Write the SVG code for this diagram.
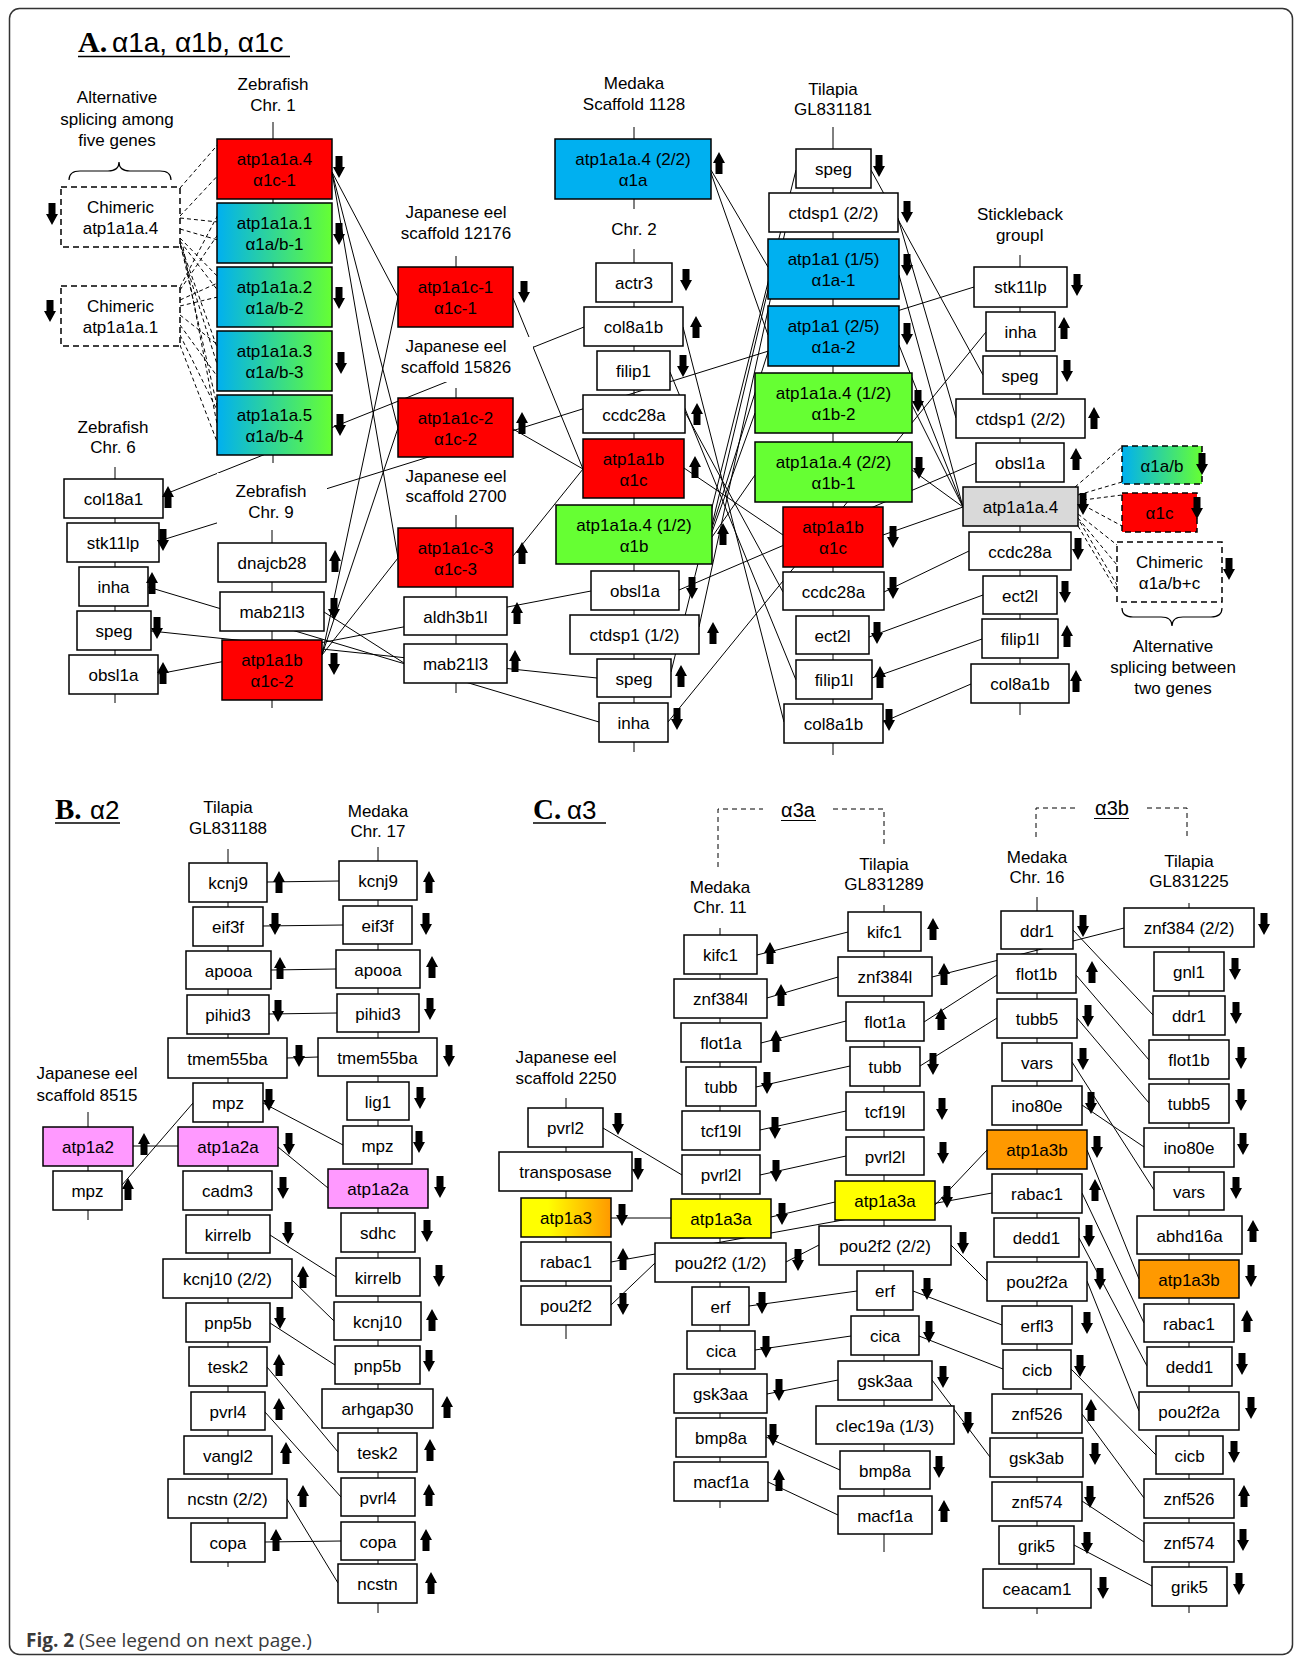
<svg xmlns="http://www.w3.org/2000/svg" width="1295" height="1658" viewBox="0 0 1295 1658">
<style>
.b{fill:#fff;stroke:#000;stroke-width:1.5}
.r{fill:#f00;stroke:#000;stroke-width:1.5}
.bl{fill:#00b0f0;stroke:#000;stroke-width:1.5}
.g{fill:#66ff33;stroke:#000;stroke-width:1.5}
.gr{fill:url(#gab);stroke:#000;stroke-width:1.5}
.p{fill:#ff99ff;stroke:#000;stroke-width:1.5}
.y{fill:#ffff00;stroke:#000;stroke-width:1.5}
.o{fill:#ff9900;stroke:#000;stroke-width:1.5}
.yo{fill:url(#gyo);stroke:#000;stroke-width:1.5}
.gy{fill:#d9d9d9;stroke:#000;stroke-width:1.5}
.dsh{stroke-dasharray:6 4}
text{font-family:"Liberation Sans",Arial,Helvetica,sans-serif;font-size:17px;fill:#000}
.t{text-anchor:middle}
.ax{stroke:#000;stroke-width:1;fill:none}
#connectors line{stroke:#000;stroke-width:1}
#connectors .dl{stroke-dasharray:4 3}
.bg{fill:#fff}
.br{fill:none;stroke:#000;stroke-width:1.2}
.ttl{font-family:"Liberation Serif","Times New Roman",serif;font-weight:bold;font-size:30px}
.ttl2{font-family:"Liberation Serif","Times New Roman",serif;font-weight:bold;font-size:29px}
.tts{font-size:28px}
.tts2{font-size:26px}
.sub{font-size:20px}
.fig{font-family:"Open Sans","Noto Sans",sans-serif;font-size:19px;fill:#3a3a3a}
</style>
<defs>
<linearGradient id="gab" x1="0" y1="0" x2="1" y2="0"><stop offset="0" stop-color="#00b0f0"/><stop offset="1" stop-color="#66ff33"/></linearGradient>
<linearGradient id="gyo" x1="0" y1="0" x2="1" y2="0"><stop offset="0.3" stop-color="#ffff00"/><stop offset="1" stop-color="#ff9900"/></linearGradient>
<path id="dn" d="M-3.5,0h7v11h2.5l-6,11l-6,-11h2.5z" fill="#000"/>
<path id="up" d="M-3.5,22h7v-11h2.5l-6,-11l-6,11h2.5z" fill="#000"/>
</defs>
<rect x="9.5" y="8.5" width="1283" height="1646" rx="10" fill="#fff" stroke="#333" stroke-width="1.5"/>

<g id="titles">
<text class="ttl" x="78" y="52">A.</text><text class="tts" x="112" y="52">α1a, α1b, α1c</text>
<line x1="78" y1="56.5" x2="290" y2="56.5" stroke="#000" stroke-width="1.5"/>
<text class="ttl2" x="55" y="819">B.</text><text class="tts2" x="90" y="819">α2</text>
<line x1="55" y1="823" x2="120" y2="823" stroke="#000" stroke-width="1.5"/>
<text class="ttl2" x="533" y="819">C.</text><text class="tts2" x="567" y="819">α3</text>
<line x1="533" y1="823" x2="606" y2="823" stroke="#000" stroke-width="1.5"/>
<text class="fig" x="26" y="1647"><tspan font-weight="bold">Fig. 2</tspan> (See legend on next page.)</text>
</g>

<g id="axes">
<line class="ax" x1="273" y1="122" x2="273" y2="463"/>
<line class="ax" x1="115" y1="467" x2="115" y2="703"/>
<line class="ax" x1="272" y1="530" x2="272" y2="708"/>
<line class="ax" x1="456" y1="256" x2="456" y2="267"/>
<line class="ax" x1="456" y1="388" x2="456" y2="398"/>
<line class="ax" x1="456" y1="515" x2="456" y2="693"/>
<line class="ax" x1="634" y1="127" x2="634" y2="209"/>
<line class="ax" x1="634" y1="249" x2="634" y2="752"/>
<line class="ax" x1="833" y1="127" x2="833" y2="755"/>
<line class="ax" x1="1020" y1="255" x2="1020" y2="715"/>
<line class="ax" x1="228" y1="849" x2="228" y2="1567"/>
<line class="ax" x1="378" y1="847" x2="378" y2="1613"/>
<line class="ax" x1="88" y1="1112" x2="88" y2="1220"/>
<line class="ax" x1="566" y1="1098" x2="566" y2="1339"/>
<line class="ax" x1="720" y1="928" x2="720" y2="1508"/>
<line class="ax" x1="884" y1="905" x2="884" y2="1552"/>
<line class="ax" x1="1037" y1="897" x2="1037" y2="1614"/>
<line class="ax" x1="1189" y1="903" x2="1189" y2="1613"/>
</g>

<g id="connectors">
<line class="dl" x1="180" y1="188" x2="221" y2="141"/>
<line class="dl" x1="180" y1="216" x2="223" y2="170"/>
<line class="dl" x1="180" y1="218" x2="218" y2="222"/>
<line class="dl" x1="180" y1="229" x2="218" y2="240"/>
<line class="dl" x1="180" y1="238" x2="222" y2="281"/>
<line class="dl" x1="180" y1="241" x2="222" y2="296"/>
<line class="dl" x1="180" y1="243" x2="218" y2="350"/>
<line class="dl" x1="180" y1="245" x2="222" y2="380"/>
<line class="dl" x1="181" y1="246" x2="218" y2="410"/>
<line class="dl" x1="183" y1="247" x2="222" y2="450"/>
<line class="dl" x1="180" y1="287" x2="222" y2="207"/>
<line class="dl" x1="180" y1="290" x2="223" y2="227"/>
<line class="dl" x1="180" y1="300" x2="222" y2="281"/>
<line class="dl" x1="180" y1="306" x2="222" y2="296"/>
<line class="dl" x1="180" y1="315" x2="218" y2="345"/>
<line class="dl" x1="180" y1="325" x2="222" y2="383"/>
<line class="dl" x1="180" y1="335" x2="218" y2="412"/>
<line class="dl" x1="180" y1="345" x2="221" y2="452"/>
<line class="dl" x1="1075" y1="487" x2="1122" y2="447"/>
<line class="dl" x1="1078" y1="495" x2="1122" y2="482"/>
<line class="dl" x1="1083" y1="500" x2="1122" y2="495"/>
<line class="dl" x1="1083" y1="505" x2="1122" y2="526"/>
<line class="dl" x1="1078" y1="514" x2="1117" y2="545"/>
<line class="dl" x1="1078" y1="518" x2="1117" y2="565"/>
<line class="dl" x1="1080" y1="522" x2="1117" y2="585"/>
<line class="dl" x1="1078" y1="526" x2="1122" y2="600"/>
<line x1="163" y1="495" x2="584" y2="327"/>
<line x1="159" y1="541" x2="974" y2="287"/>
<line x1="148" y1="587" x2="599" y2="722"/>
<line x1="151" y1="631" x2="597" y2="678"/>
<line x1="158" y1="674" x2="591" y2="591"/>
<line x1="324" y1="612" x2="404" y2="663"/>
<line x1="332" y1="172" x2="398" y2="297"/>
<line x1="332" y1="172" x2="398" y2="428"/>
<line x1="332" y1="172" x2="398" y2="558"/>
<line x1="322" y1="655" x2="398" y2="297"/>
<line x1="322" y1="655" x2="398" y2="428"/>
<line x1="322" y1="655" x2="398" y2="558"/>
<line x1="513" y1="298" x2="583" y2="469"/>
<line x1="513" y1="429" x2="583" y2="469"/>
<line x1="513" y1="556" x2="583" y2="469"/>
<line x1="684" y1="468" x2="783" y2="535"/>
<line x1="711" y1="170" x2="768" y2="267"/>
<line x1="711" y1="173" x2="768" y2="335"/>
<line x1="712" y1="532" x2="755" y2="413"/>
<line x1="712" y1="537" x2="755" y2="475"/>
<line x1="712" y1="525" x2="768" y2="290"/>
<line x1="712" y1="528" x2="768" y2="352"/>
<line x1="699" y1="627" x2="785" y2="232"/>
<line x1="671" y1="672" x2="796" y2="170"/>
<line x1="683" y1="327" x2="784" y2="722"/>
<line x1="670" y1="372" x2="796" y2="680"/>
<line x1="685" y1="412" x2="783" y2="592"/>
<line x1="679" y1="590" x2="976" y2="463"/>
<line x1="668" y1="722" x2="986" y2="332"/>
<line x1="871" y1="170" x2="983" y2="375"/>
<line x1="898" y1="218" x2="956" y2="418"/>
<line x1="899" y1="275" x2="963" y2="507"/>
<line x1="899" y1="345" x2="963" y2="507"/>
<line x1="912" y1="405" x2="963" y2="507"/>
<line x1="912" y1="470" x2="963" y2="507"/>
<line x1="883" y1="535" x2="963" y2="507"/>
<line x1="969" y1="551" x2="884" y2="592"/>
<line x1="983" y1="595" x2="869" y2="637"/>
<line x1="982" y1="639" x2="872" y2="678"/>
<line x1="971" y1="684" x2="883" y2="722"/>
<line x1="267" y1="882" x2="339" y2="881"/>
<line x1="263" y1="926" x2="343" y2="925"/>
<line x1="271" y1="970" x2="336" y2="969"/>
<line x1="269" y1="1014" x2="337" y2="1013"/>
<line x1="287" y1="1058" x2="318" y2="1057"/>
<line x1="263" y1="1103" x2="343" y2="1145"/>
<line x1="193" y1="1103" x2="122" y2="1185"/>
<line x1="133" y1="1146" x2="178" y2="1146"/>
<line x1="278" y1="1147" x2="328" y2="1188"/>
<line x1="270" y1="1235" x2="336" y2="1277"/>
<line x1="292" y1="1280" x2="334" y2="1321"/>
<line x1="270" y1="1323" x2="335" y2="1365"/>
<line x1="267" y1="1367" x2="338" y2="1452"/>
<line x1="265" y1="1412" x2="341" y2="1497"/>
<line x1="287" y1="1499" x2="338" y2="1583"/>
<line x1="265" y1="1542" x2="341" y2="1541"/>
<line x1="603" y1="1128" x2="682" y2="1175"/>
<line x1="611" y1="1218" x2="671" y2="1218"/>
<line x1="611" y1="1262" x2="992" y2="1193"/>
<line x1="611" y1="1305" x2="655" y2="1263"/>
<line x1="771" y1="1217" x2="835" y2="1202"/>
<line x1="819" y1="1245" x2="786" y2="1262"/>
<line x1="951" y1="1245" x2="987" y2="1281"/>
<line x1="848" y1="932" x2="757" y2="955"/>
<line x1="838" y1="977" x2="767" y2="998"/>
<line x1="846" y1="1021" x2="761" y2="1043"/>
<line x1="850" y1="1066" x2="756" y2="1087"/>
<line x1="846" y1="1111" x2="760" y2="1130"/>
<line x1="846" y1="1156" x2="760" y2="1175"/>
<line x1="857" y1="1291" x2="749" y2="1306"/>
<line x1="851" y1="1336" x2="755" y2="1350"/>
<line x1="838" y1="1380" x2="767" y2="1394"/>
<line x1="840" y1="1470" x2="766" y2="1437"/>
<line x1="838" y1="1515" x2="768" y2="1482"/>
<line x1="1073" y1="930" x2="1153" y2="1015"/>
<line x1="1124" y1="928" x2="932" y2="977"/>
<line x1="997" y1="975" x2="924" y2="1022"/>
<line x1="1076" y1="975" x2="1149" y2="1060"/>
<line x1="997" y1="1018" x2="920" y2="1066"/>
<line x1="1077" y1="1018" x2="1149" y2="1103"/>
<line x1="1072" y1="1062" x2="1154" y2="1190"/>
<line x1="1082" y1="1105" x2="1144" y2="1147"/>
<line x1="987" y1="1150" x2="935" y2="1205"/>
<line x1="1087" y1="1150" x2="1139" y2="1279"/>
<line x1="1082" y1="1193" x2="1144" y2="1323"/>
<line x1="1079" y1="1238" x2="1147" y2="1366"/>
<line x1="1087" y1="1281" x2="1139" y2="1411"/>
<line x1="1002" y1="1325" x2="913" y2="1291"/>
<line x1="1003" y1="1369" x2="919" y2="1336"/>
<line x1="1071" y1="1369" x2="1156" y2="1455"/>
<line x1="932" y1="1380" x2="990" y2="1457"/>
<line x1="1082" y1="1414" x2="1144" y2="1498"/>
<line x1="1082" y1="1501" x2="1144" y2="1542"/>
<line x1="1074" y1="1545" x2="1152" y2="1586"/>
</g>

<g id="labels">
<text class="t" x="117" y="103">Alternative</text><text class="t" x="117" y="125">splicing among</text><text class="t" x="117" y="146">five genes</text>
<path class="br" d="M69,180 Q69,171 80,171 L108,171 Q119,171 119,162 Q119,171 130,171 L160,171 Q171,171 171,180"/>
<text class="t" x="1173" y="652">Alternative</text><text class="t" x="1173" y="673">splicing between</text><text class="t" x="1173" y="694">two genes</text>
<path class="br" d="M1122,608 Q1122,617 1133,617 L1161,617 Q1172,617 1172,626 Q1172,617 1183,617 L1211,617 Q1222,617 1222,608"/>
<text class="t" x="273" y="90">Zebrafish</text><text class="t" x="273" y="111">Chr. 1</text>
<text class="t" x="634" y="89">Medaka</text><text class="t" x="634" y="110">Scaffold 1128</text>
<text class="t" x="634" y="235">Chr. 2</text>
<text class="t" x="833" y="95">Tilapia</text><text class="t" x="833" y="115">GL831181</text>
<rect class="bg" x="398" y="203" width="133" height="44"/>
<text class="t" x="456" y="218">Japanese eel</text><text class="t" x="456" y="239">scaffold 12176</text>
<rect class="bg" x="398" y="337" width="135" height="45"/>
<text class="t" x="456" y="352">Japanese eel</text><text class="t" x="456" y="373">scaffold 15826</text>
<rect class="bg" x="398" y="467" width="133" height="44"/>
<text class="t" x="456" y="482">Japanese eel</text><text class="t" x="456" y="502">scaffold 2700</text>
<text class="t" x="1020" y="220">Stickleback</text><text class="t" x="1020" y="241">groupI</text>
<text class="t" x="113" y="433">Zebrafish</text><text class="t" x="113" y="453">Chr. 6</text>
<rect class="bg" x="217" y="473" width="110" height="53"/>
<text class="t" x="271" y="497">Zebrafish</text><text class="t" x="271" y="518">Chr. 9</text>
<text class="t" x="228" y="813">Tilapia</text><text class="t" x="228" y="834">GL831188</text>
<text class="t" x="378" y="817">Medaka</text><text class="t" x="378" y="837">Chr. 17</text>
<text class="t" x="87" y="1079">Japanese eel</text><text class="t" x="87" y="1101">scaffold 8515</text>
<text class="t" x="566" y="1063">Japanese eel</text><text class="t" x="566" y="1084">scaffold 2250</text>
<text class="t" x="720" y="893">Medaka</text><text class="t" x="720" y="913">Chr. 11</text>
<text class="t" x="884" y="870">Tilapia</text><text class="t" x="884" y="890">GL831289</text>
<text class="t" x="1037" y="863">Medaka</text><text class="t" x="1037" y="883">Chr. 16</text>
<text class="t" x="1189" y="867">Tilapia</text><text class="t" x="1189" y="887">GL831225</text>
<path class="ax" stroke-dasharray="5 4" d="M718,867 V809 H763 M833,809 H884 V844"/>
<text class="t sub" x="798" y="817">α3a</text><line x1="781" y1="820.5" x2="816" y2="820.5" stroke="#000"/>
<path class="ax" stroke-dasharray="5 4" d="M1036,837 V808 H1077 M1147,808 H1187 V840"/>
<text class="t sub" x="1112" y="815">α3b</text><line x1="1094" y1="818.5" x2="1129" y2="818.5" stroke="#000"/>
</g>

<g id="chim-a4"><rect class="b dsh" x="61" y="187" width="119" height="60"/><text class="t" x="120.5" y="213">Chimeric</text><text class="t" x="120.5" y="234">atp1a1a.4</text><use href="#dn" x="52" y="203"/></g>
<g id="chim-a1"><rect class="b dsh" x="61" y="286" width="119" height="60"/><text class="t" x="120.5" y="312">Chimeric</text><text class="t" x="120.5" y="333">atp1a1a.1</text><use href="#dn" x="50" y="300"/></g>
<g id="z1-atp1a1a4"><rect class="r" x="217" y="139" width="115" height="60"/><text class="t" x="274.5" y="165">atp1a1a.4</text><text class="t" x="274.5" y="186">α1c-1</text><use href="#dn" x="339" y="156"/></g>
<g id="z1-atp1a1a1"><rect class="gr" x="217" y="203" width="115" height="60"/><text class="t" x="274.5" y="229">atp1a1a.1</text><text class="t" x="274.5" y="250">α1a/b-1</text><use href="#dn" x="339" y="223"/></g>
<g id="z1-atp1a1a2"><rect class="gr" x="217" y="267" width="115" height="60"/><text class="t" x="274.5" y="293">atp1a1a.2</text><text class="t" x="274.5" y="314">α1a/b-2</text><use href="#dn" x="339" y="287"/></g>
<g id="z1-atp1a1a3"><rect class="gr" x="217" y="331" width="115" height="60"/><text class="t" x="274.5" y="357">atp1a1a.3</text><text class="t" x="274.5" y="378">α1a/b-3</text><use href="#dn" x="341" y="352"/></g>
<g id="z1-atp1a1a5"><rect class="gr" x="217" y="395" width="115" height="60"/><text class="t" x="274.5" y="421">atp1a1a.5</text><text class="t" x="274.5" y="442">α1a/b-4</text><use href="#dn" x="340" y="414"/></g>

<g id="z6-col18a1"><rect class="b" x="64" y="479" width="99" height="39"/><text class="t" x="113.5" y="505">col18a1</text><use href="#up" x="168" y="486"/></g>
<g id="z6-stk11lp"><rect class="b" x="67" y="523" width="92" height="39"/><text class="t" x="113" y="549">stk11lp</text><use href="#dn" x="163" y="529"/></g>
<g id="z6-inha"><rect class="b" x="79" y="567" width="69" height="39"/><text class="t" x="113.5" y="593">inha</text><use href="#up" x="152" y="572"/></g>
<g id="z6-speg"><rect class="b" x="77" y="611" width="74" height="39"/><text class="t" x="114" y="637">speg</text><use href="#dn" x="157" y="617"/></g>
<g id="z6-obsl1a"><rect class="b" x="69" y="655" width="89" height="39"/><text class="t" x="113.5" y="681">obsl1a</text><use href="#up" x="163" y="662"/></g>

<g id="z9-dnajcb28"><rect class="b" x="218" y="543" width="108" height="39"/><text class="t" x="272" y="569">dnajcb28</text><use href="#up" x="335" y="550"/></g>
<g id="z9-mab21l3"><rect class="b" x="220" y="592" width="104" height="39"/><text class="t" x="272" y="618">mab21l3</text><use href="#dn" x="334" y="598"/></g>
<g id="z9-atp1a1b"><rect class="r" x="222" y="640" width="100" height="60"/><text class="t" x="272" y="666">atp1a1b</text><text class="t" x="272" y="687">α1c-2</text><use href="#dn" x="334" y="653"/></g>

<g id="je-atp1a1c1"><rect class="r" x="398" y="267" width="115" height="60"/><text class="t" x="455.5" y="293">atp1a1c-1</text><text class="t" x="455.5" y="314">α1c-1</text><use href="#dn" x="524" y="281"/></g>
<g id="je-atp1a1c2"><rect class="r" x="398" y="398" width="115" height="59"/><text class="t" x="455.5" y="424">atp1a1c-2</text><text class="t" x="455.5" y="445">α1c-2</text><use href="#up" x="522" y="412"/></g>
<g id="je-atp1a1c3"><rect class="r" x="398" y="528" width="115" height="59"/><text class="t" x="455.5" y="554">atp1a1c-3</text><text class="t" x="455.5" y="575">α1c-3</text><use href="#up" x="522" y="542"/></g>
<g id="je-aldh3b1l"><rect class="b" x="404" y="597" width="103" height="38"/><text class="t" x="455.5" y="623">aldh3b1l</text><use href="#up" x="517" y="602"/></g>
<g id="je-mab21l3"><rect class="b" x="404" y="644" width="103" height="39"/><text class="t" x="455.5" y="670">mab21l3</text><use href="#up" x="515" y="650"/></g>

<g id="md-atp1a1a4-22"><rect class="bl" x="555" y="139" width="156" height="60"/><text class="t" x="633" y="165">atp1a1a.4 (2/2)</text><text class="t" x="633" y="186">α1a</text><use href="#up" x="719" y="152"/></g>
<g id="md-actr3"><rect class="b" x="596" y="263" width="76" height="39"/><text class="t" x="634" y="289">actr3</text><use href="#dn" x="686" y="269"/></g>
<g id="md-col8a1b"><rect class="b" x="584" y="307" width="99" height="39"/><text class="t" x="633.5" y="333">col8a1b</text><use href="#up" x="696" y="316"/></g>
<g id="md-filip1"><rect class="b" x="597" y="351" width="73" height="39"/><text class="t" x="633.5" y="377">filip1</text><use href="#dn" x="683" y="355"/></g>
<g id="md-ccdc28a"><rect class="b" x="583" y="395" width="102" height="38"/><text class="t" x="634" y="421">ccdc28a</text><use href="#up" x="697" y="403"/></g>
<g id="md-atp1a1b"><rect class="r" x="583" y="439" width="101" height="59"/><text class="t" x="633.5" y="465">atp1a1b</text><text class="t" x="633.5" y="486">α1c</text><use href="#up" x="695" y="456"/></g>
<g id="md-atp1a1a4-12"><rect class="g" x="556" y="505" width="156" height="59"/><text class="t" x="634" y="531">atp1a1a.4 (1/2)</text><text class="t" x="634" y="552">α1b</text><use href="#up" x="723" y="523"/></g>
<g id="md-obsl1a"><rect class="b" x="591" y="571" width="88" height="39"/><text class="t" x="635" y="597">obsl1a</text><use href="#dn" x="692" y="577"/></g>
<g id="md-ctdsp1"><rect class="b" x="570" y="615" width="129" height="39"/><text class="t" x="634.5" y="641">ctdsp1 (1/2)</text><use href="#up" x="713" y="622"/></g>
<g id="md-speg"><rect class="b" x="597" y="659" width="74" height="38"/><text class="t" x="634" y="685">speg</text><use href="#up" x="681" y="665"/></g>
<g id="md-inha"><rect class="b" x="599" y="703" width="69" height="39"/><text class="t" x="633.5" y="729">inha</text><use href="#dn" x="677" y="708"/></g>

<g id="tl-speg"><rect class="b" x="796" y="149" width="75" height="39"/><text class="t" x="833.5" y="175">speg</text><use href="#dn" x="879" y="155"/></g>
<g id="tl-ctdsp1"><rect class="b" x="769" y="193" width="129" height="39"/><text class="t" x="833.5" y="219">ctdsp1 (2/2)</text><use href="#dn" x="907" y="201"/></g>
<g id="tl-atp1a1-15"><rect class="bl" x="768" y="239" width="131" height="60"/><text class="t" x="833.5" y="265">atp1a1 (1/5)</text><text class="t" x="833.5" y="286">α1a-1</text><use href="#dn" x="907" y="254"/></g>
<g id="tl-atp1a1-25"><rect class="bl" x="768" y="306" width="131" height="60"/><text class="t" x="833.5" y="332">atp1a1 (2/5)</text><text class="t" x="833.5" y="353">α1a-2</text><use href="#dn" x="907" y="323"/></g>
<g id="tl-atp1a1a4-12"><rect class="g" x="755" y="373" width="157" height="60"/><text class="t" x="833.5" y="399">atp1a1a.4 (1/2)</text><text class="t" x="833.5" y="420">α1b-2</text><use href="#dn" x="918" y="390"/></g>
<g id="tl-atp1a1a4-22"><rect class="g" x="755" y="442" width="157" height="60"/><text class="t" x="833.5" y="468">atp1a1a.4 (2/2)</text><text class="t" x="833.5" y="489">α1b-1</text><use href="#dn" x="919" y="457"/></g>
<g id="tl-atp1a1b"><rect class="r" x="783" y="507" width="100" height="60"/><text class="t" x="833" y="533">atp1a1b</text><text class="t" x="833" y="554">α1c</text><use href="#dn" x="893" y="526"/></g>
<g id="tl-ccdc28a"><rect class="b" x="783" y="572" width="101" height="38"/><text class="t" x="833.5" y="598">ccdc28a</text><use href="#dn" x="893" y="577"/></g>
<g id="tl-ect2l"><rect class="b" x="796" y="616" width="73" height="38"/><text class="t" x="832.5" y="642">ect2l</text><use href="#dn" x="877" y="622"/></g>
<g id="tl-filip1l"><rect class="b" x="796" y="660" width="76" height="39"/><text class="t" x="834" y="686">filip1l</text><use href="#up" x="880" y="666"/></g>
<g id="tl-col8a1b"><rect class="b" x="784" y="704" width="99" height="39"/><text class="t" x="833.5" y="730">col8a1b</text><use href="#dn" x="889" y="709"/></g>

<g id="sb-stk11lp"><rect class="b" x="974" y="267" width="93" height="40"/><text class="t" x="1020.5" y="293">stk11lp</text><use href="#dn" x="1077" y="274"/></g>
<g id="sb-inha"><rect class="b" x="986" y="312" width="69" height="39"/><text class="t" x="1020.5" y="338">inha</text><use href="#up" x="1064" y="317"/></g>
<g id="sb-speg"><rect class="b" x="983" y="356" width="74" height="38"/><text class="t" x="1020" y="382">speg</text><use href="#dn" x="1067" y="360"/></g>
<g id="sb-ctdsp1"><rect class="b" x="956" y="399" width="129" height="39"/><text class="t" x="1020.5" y="425">ctdsp1 (2/2)</text><use href="#up" x="1094" y="407"/></g>
<g id="sb-obsl1a"><rect class="b" x="976" y="443" width="88" height="39"/><text class="t" x="1020" y="469">obsl1a</text><use href="#up" x="1076" y="448"/></g>
<g id="sb-atp1a1a4"><rect class="gy" x="963" y="487" width="115" height="39"/><text class="t" x="1020.5" y="513">atp1a1a.4</text><use href="#dn" x="1083" y="493"/></g>
<g id="sb-ccdc28a"><rect class="b" x="969" y="532" width="102" height="38"/><text class="t" x="1020" y="558">ccdc28a</text><use href="#dn" x="1078" y="538"/></g>
<g id="sb-ect2l"><rect class="b" x="983" y="576" width="74" height="38"/><text class="t" x="1020" y="602">ect2l</text><use href="#dn" x="1065" y="581"/></g>
<g id="sb-filip1l"><rect class="b" x="982" y="619" width="76" height="39"/><text class="t" x="1020" y="645">filip1l</text><use href="#up" x="1067" y="625"/></g>
<g id="sb-col8a1b"><rect class="b" x="971" y="664" width="98" height="39"/><text class="t" x="1020" y="690">col8a1b</text><use href="#up" x="1076" y="670"/></g>

<g id="as-a1ab"><rect class="gr dsh" x="1122" y="446" width="80" height="38"/><text class="t" x="1162" y="472">α1a/b</text><use href="#dn" x="1202" y="453"/></g>
<g id="as-a1c"><rect class="r dsh" x="1122" y="493" width="75" height="39"/><text class="t" x="1159.5" y="519">α1c</text><use href="#dn" x="1197" y="497"/></g>
<g id="as-chim"><rect class="b dsh" x="1117" y="542" width="105" height="60"/><text class="t" x="1169.5" y="568">Chimeric</text><text class="t" x="1169.5" y="589">α1a/b+c</text><use href="#dn" x="1229" y="558"/></g>

<g id="b-tl-kcnj9"><rect class="b" x="189" y="863" width="78" height="39"/><text class="t" x="228" y="889">kcnj9</text><use href="#up" x="279" y="871"/></g>
<g id="b-tl-eif3f"><rect class="b" x="193" y="907" width="70" height="39"/><text class="t" x="228" y="933">eif3f</text><use href="#dn" x="275" y="913"/></g>
<g id="b-tl-apooa"><rect class="b" x="186" y="951" width="85" height="38"/><text class="t" x="228.5" y="977">apooa</text><use href="#up" x="280" y="957"/></g>
<g id="b-tl-pihid3"><rect class="b" x="187" y="995" width="82" height="39"/><text class="t" x="228" y="1021">pihid3</text><use href="#dn" x="278" y="1000"/></g>
<g id="b-tl-tmem55ba"><rect class="b" x="168" y="1038" width="119" height="40"/><text class="t" x="227.5" y="1065">tmem55ba</text><use href="#dn" x="299" y="1045"/></g>
<g id="b-tl-mpz"><rect class="b" x="193" y="1083" width="70" height="39"/><text class="t" x="228" y="1109">mpz</text><use href="#dn" x="269" y="1089"/></g>
<g id="b-tl-atp1a2a"><rect class="p" x="178" y="1127" width="100" height="39"/><text class="t" x="228" y="1153">atp1a2a</text><use href="#dn" x="289" y="1133"/></g>
<g id="b-tl-cadm3"><rect class="b" x="183" y="1171" width="89" height="39"/><text class="t" x="227.5" y="1197">cadm3</text><use href="#dn" x="283" y="1177"/></g>
<g id="b-tl-kirrelb"><rect class="b" x="186" y="1215" width="84" height="38"/><text class="t" x="228" y="1241">kirrelb</text><use href="#dn" x="288" y="1222"/></g>
<g id="b-tl-kcnj10"><rect class="b" x="163" y="1259" width="129" height="39"/><text class="t" x="227.5" y="1285">kcnj10 (2/2)</text><use href="#up" x="303" y="1266"/></g>
<g id="b-tl-pnp5b"><rect class="b" x="186" y="1303" width="84" height="39"/><text class="t" x="228" y="1329">pnp5b</text><use href="#dn" x="280" y="1307"/></g>
<g id="b-tl-tesk2"><rect class="b" x="189" y="1347" width="78" height="39"/><text class="t" x="228" y="1373">tesk2</text><use href="#up" x="279" y="1354"/></g>
<g id="b-tl-pvrl4"><rect class="b" x="191" y="1392" width="74" height="38"/><text class="t" x="228" y="1418">pvrl4</text><use href="#up" x="279" y="1398"/></g>
<g id="b-tl-vangl2"><rect class="b" x="184" y="1436" width="88" height="38"/><text class="t" x="228" y="1462">vangl2</text><use href="#up" x="286" y="1442"/></g>
<g id="b-tl-ncstn"><rect class="b" x="168" y="1479" width="119" height="39"/><text class="t" x="227.5" y="1505">ncstn (2/2)</text><use href="#up" x="303" y="1485"/></g>
<g id="b-tl-copa"><rect class="b" x="191" y="1523" width="74" height="39"/><text class="t" x="228" y="1549">copa</text><use href="#up" x="276" y="1529"/></g>

<g id="b-md-kcnj9"><rect class="b" x="339" y="861" width="78" height="39"/><text class="t" x="378" y="887">kcnj9</text><use href="#up" x="429" y="871"/></g>
<g id="b-md-eif3f"><rect class="b" x="343" y="906" width="69" height="38"/><text class="t" x="377.5" y="932">eif3f</text><use href="#dn" x="426" y="913"/></g>
<g id="b-md-apooa"><rect class="b" x="336" y="950" width="84" height="38"/><text class="t" x="378" y="976">apooa</text><use href="#up" x="432" y="956"/></g>
<g id="b-md-pihid3"><rect class="b" x="337" y="994" width="82" height="38"/><text class="t" x="378" y="1020">pihid3</text><use href="#dn" x="430" y="998"/></g>
<g id="b-md-tmem55ba"><rect class="b" x="318" y="1038" width="119" height="38"/><text class="t" x="377.5" y="1064">tmem55ba</text><use href="#dn" x="449" y="1045"/></g>
<g id="b-md-lig1"><rect class="b" x="347" y="1082" width="62" height="38"/><text class="t" x="378" y="1108">lig1</text><use href="#dn" x="420" y="1087"/></g>
<g id="b-md-mpz"><rect class="b" x="343" y="1126" width="69" height="38"/><text class="t" x="377.5" y="1152">mpz</text><use href="#dn" x="419" y="1131"/></g>
<g id="b-md-atp1a2a"><rect class="p" x="328" y="1169" width="100" height="39"/><text class="t" x="378" y="1195">atp1a2a</text><use href="#dn" x="440" y="1176"/></g>
<g id="b-md-sdhc"><rect class="b" x="341" y="1213" width="74" height="39"/><text class="t" x="378" y="1239">sdhc</text><use href="#dn" x="427" y="1220"/></g>
<g id="b-md-kirrelb"><rect class="b" x="336" y="1258" width="84" height="38"/><text class="t" x="378" y="1284">kirrelb</text><use href="#dn" x="439" y="1265"/></g>
<g id="b-md-kcnj10"><rect class="b" x="334" y="1302" width="87" height="38"/><text class="t" x="377.5" y="1328">kcnj10</text><use href="#up" x="432" y="1309"/></g>
<g id="b-md-pnp5b"><rect class="b" x="335" y="1346" width="85" height="38"/><text class="t" x="377.5" y="1372">pnp5b</text><use href="#dn" x="429" y="1350"/></g>
<g id="b-md-arhgap30"><rect class="b" x="322" y="1389" width="111" height="39"/><text class="t" x="377.5" y="1415">arhgap30</text><use href="#up" x="447" y="1396"/></g>
<g id="b-md-tesk2"><rect class="b" x="338" y="1433" width="79" height="39"/><text class="t" x="377.5" y="1459">tesk2</text><use href="#up" x="430" y="1439"/></g>
<g id="b-md-pvrl4"><rect class="b" x="341" y="1478" width="74" height="38"/><text class="t" x="378" y="1504">pvrl4</text><use href="#up" x="429" y="1484"/></g>
<g id="b-md-copa"><rect class="b" x="341" y="1522" width="74" height="38"/><text class="t" x="378" y="1548">copa</text><use href="#up" x="426" y="1529"/></g>
<g id="b-md-ncstn"><rect class="b" x="338" y="1564" width="79" height="39"/><text class="t" x="377.5" y="1590">ncstn</text><use href="#up" x="431" y="1572"/></g>

<g id="b-je-atp1a2"><rect class="p" x="43" y="1127" width="90" height="39"/><text class="t" x="88" y="1153">atp1a2</text><use href="#up" x="144" y="1133"/></g>
<g id="b-je-mpz"><rect class="b" x="53" y="1171" width="69" height="39"/><text class="t" x="87.5" y="1197">mpz</text><use href="#up" x="128" y="1178"/></g>

<g id="c-je-pvrl2"><rect class="b" x="528" y="1108" width="75" height="39"/><text class="t" x="565.5" y="1134">pvrl2</text><use href="#dn" x="618" y="1113"/></g>
<g id="c-je-transposase"><rect class="b" x="499" y="1152" width="133" height="39"/><text class="t" x="565.5" y="1178">transposase</text><use href="#dn" x="638" y="1158"/></g>
<g id="c-je-atp1a3"><rect class="yo" x="521" y="1198" width="90" height="39"/><text class="t" x="566" y="1224">atp1a3</text><use href="#dn" x="622" y="1204"/></g>
<g id="c-je-rabac1"><rect class="b" x="521" y="1242" width="90" height="39"/><text class="t" x="566" y="1268">rabac1</text><use href="#up" x="623" y="1248"/></g>
<g id="c-je-pou2f2"><rect class="b" x="521" y="1286" width="90" height="39"/><text class="t" x="566" y="1312">pou2f2</text><use href="#dn" x="623" y="1293"/></g>

<g id="c-m11-kifc1"><rect class="b" x="684" y="935" width="73" height="39"/><text class="t" x="720.5" y="961">kifc1</text><use href="#up" x="770" y="942"/></g>
<g id="c-m11-znf384l"><rect class="b" x="674" y="979" width="93" height="39"/><text class="t" x="720.5" y="1005">znf384l</text><use href="#up" x="781" y="984"/></g>
<g id="c-m11-flot1a"><rect class="b" x="681" y="1023" width="80" height="39"/><text class="t" x="721" y="1049">flot1a</text><use href="#up" x="776" y="1030"/></g>
<g id="c-m11-tubb"><rect class="b" x="686" y="1067" width="70" height="39"/><text class="t" x="721" y="1093">tubb</text><use href="#dn" x="767" y="1072"/></g>
<g id="c-m11-tcf19l"><rect class="b" x="682" y="1111" width="78" height="39"/><text class="t" x="721" y="1137">tcf19l</text><use href="#dn" x="775" y="1117"/></g>
<g id="c-m11-pvrl2l"><rect class="b" x="682" y="1155" width="78" height="39"/><text class="t" x="721" y="1181">pvrl2l</text><use href="#dn" x="776" y="1160"/></g>
<g id="c-m11-atp1a3a"><rect class="y" x="671" y="1199" width="100" height="39"/><text class="t" x="721" y="1225">atp1a3a</text><use href="#dn" x="782" y="1203"/></g>
<g id="c-m11-pou2f2"><rect class="b" x="655" y="1243" width="131" height="39"/><text class="t" x="720.5" y="1269">pou2f2 (1/2)</text><use href="#dn" x="798" y="1249"/></g>
<g id="c-m11-erf"><rect class="b" x="692" y="1287" width="57" height="38"/><text class="t" x="720.5" y="1313">erf</text><use href="#dn" x="762" y="1292"/></g>
<g id="c-m11-cica"><rect class="b" x="687" y="1331" width="68" height="38"/><text class="t" x="721" y="1357">cica</text><use href="#dn" x="766" y="1336"/></g>
<g id="c-m11-gsk3aa"><rect class="b" x="674" y="1374" width="93" height="39"/><text class="t" x="720.5" y="1400">gsk3aa</text><use href="#dn" x="779" y="1379"/></g>
<g id="c-m11-bmp8a"><rect class="b" x="676" y="1418" width="90" height="39"/><text class="t" x="721" y="1444">bmp8a</text><use href="#dn" x="773" y="1424"/></g>
<g id="c-m11-macf1a"><rect class="b" x="674" y="1462" width="94" height="39"/><text class="t" x="721" y="1488">macf1a</text><use href="#up" x="779" y="1469"/></g>

<g id="c-t89-kifc1"><rect class="b" x="848" y="912" width="73" height="39"/><text class="t" x="884.5" y="938">kifc1</text><use href="#up" x="933" y="918"/></g>
<g id="c-t89-znf384l"><rect class="b" x="838" y="957" width="94" height="39"/><text class="t" x="885" y="983">znf384l</text><use href="#up" x="944" y="963"/></g>
<g id="c-t89-flot1a"><rect class="b" x="846" y="1002" width="78" height="39"/><text class="t" x="885" y="1028">flot1a</text><use href="#up" x="941" y="1008"/></g>
<g id="c-t89-tubb"><rect class="b" x="850" y="1047" width="70" height="39"/><text class="t" x="885" y="1073">tubb</text><use href="#dn" x="933" y="1053"/></g>
<g id="c-t89-tcf19l"><rect class="b" x="846" y="1092" width="78" height="38"/><text class="t" x="885" y="1118">tcf19l</text><use href="#dn" x="942" y="1098"/></g>
<g id="c-t89-pvrl2l"><rect class="b" x="846" y="1137" width="78" height="38"/><text class="t" x="885" y="1163">pvrl2l</text><use href="#dn" x="943" y="1142"/></g>
<g id="c-t89-atp1a3a"><rect class="y" x="835" y="1181" width="100" height="39"/><text class="t" x="885" y="1207">atp1a3a</text><use href="#dn" x="947" y="1186"/></g>
<g id="c-t89-pou2f2"><rect class="b" x="819" y="1226" width="132" height="39"/><text class="t" x="885" y="1252">pou2f2 (2/2)</text><use href="#dn" x="963" y="1232"/></g>
<g id="c-t89-erf"><rect class="b" x="857" y="1271" width="56" height="39"/><text class="t" x="885" y="1297">erf</text><use href="#dn" x="927" y="1278"/></g>
<g id="c-t89-cica"><rect class="b" x="851" y="1316" width="68" height="39"/><text class="t" x="885" y="1342">cica</text><use href="#dn" x="929" y="1321"/></g>
<g id="c-t89-gsk3aa"><rect class="b" x="838" y="1361" width="94" height="39"/><text class="t" x="885" y="1387">gsk3aa</text><use href="#dn" x="943" y="1366"/></g>
<g id="c-t89-clec19a"><rect class="b" x="816" y="1406" width="138" height="38"/><text class="t" x="885" y="1432">clec19a (1/3)</text><use href="#dn" x="968" y="1412"/></g>
<g id="c-t89-bmp8a"><rect class="b" x="840" y="1451" width="90" height="38"/><text class="t" x="885" y="1477">bmp8a</text><use href="#dn" x="939" y="1456"/></g>
<g id="c-t89-macf1a"><rect class="b" x="838" y="1496" width="94" height="38"/><text class="t" x="885" y="1522">macf1a</text><use href="#up" x="944" y="1500"/></g>

<g id="c-m16-ddr1"><rect class="b" x="1001" y="911" width="72" height="38"/><text class="t" x="1037" y="937">ddr1</text><use href="#dn" x="1083" y="915"/></g>
<g id="c-m16-flot1b"><rect class="b" x="997" y="954" width="79" height="39"/><text class="t" x="1036.5" y="980">flot1b</text><use href="#up" x="1092" y="961"/></g>
<g id="c-m16-tubb5"><rect class="b" x="997" y="999" width="80" height="39"/><text class="t" x="1037" y="1025">tubb5</text><use href="#dn" x="1088" y="1005"/></g>
<g id="c-m16-vars"><rect class="b" x="1002" y="1043" width="70" height="38"/><text class="t" x="1037" y="1069">vars</text><use href="#dn" x="1083" y="1048"/></g>
<g id="c-m16-ino80e"><rect class="b" x="992" y="1086" width="90" height="39"/><text class="t" x="1037" y="1112">ino80e</text><use href="#dn" x="1091" y="1092"/></g>
<g id="c-m16-atp1a3b"><rect class="o" x="987" y="1130" width="100" height="39"/><text class="t" x="1037" y="1156">atp1a3b</text><use href="#dn" x="1097" y="1136"/></g>
<g id="c-m16-rabac1"><rect class="b" x="992" y="1174" width="90" height="39"/><text class="t" x="1037" y="1200">rabac1</text><use href="#up" x="1095" y="1179"/></g>
<g id="c-m16-dedd1"><rect class="b" x="994" y="1218" width="85" height="39"/><text class="t" x="1036.5" y="1244">dedd1</text><use href="#dn" x="1089" y="1225"/></g>
<g id="c-m16-pou2f2a"><rect class="b" x="987" y="1262" width="100" height="39"/><text class="t" x="1037" y="1288">pou2f2a</text><use href="#dn" x="1100" y="1268"/></g>
<g id="c-m16-erfl3"><rect class="b" x="1002" y="1306" width="70" height="38"/><text class="t" x="1037" y="1332">erfl3</text><use href="#dn" x="1087" y="1312"/></g>
<g id="c-m16-cicb"><rect class="b" x="1003" y="1350" width="68" height="39"/><text class="t" x="1037" y="1376">cicb</text><use href="#dn" x="1080" y="1355"/></g>
<g id="c-m16-znf526"><rect class="b" x="992" y="1394" width="90" height="39"/><text class="t" x="1037" y="1420">znf526</text><use href="#up" x="1091" y="1399"/></g>
<g id="c-m16-gsk3ab"><rect class="b" x="990" y="1438" width="93" height="39"/><text class="t" x="1036.5" y="1464">gsk3ab</text><use href="#dn" x="1095" y="1443"/></g>
<g id="c-m16-znf574"><rect class="b" x="992" y="1482" width="90" height="39"/><text class="t" x="1037" y="1508">znf574</text><use href="#dn" x="1090" y="1486"/></g>
<g id="c-m16-grik5"><rect class="b" x="999" y="1526" width="75" height="38"/><text class="t" x="1036.5" y="1552">grik5</text><use href="#dn" x="1087" y="1532"/></g>
<g id="c-m16-ceacam1"><rect class="b" x="983" y="1569" width="108" height="39"/><text class="t" x="1037" y="1595">ceacam1</text><use href="#dn" x="1103" y="1577"/></g>

<g id="c-t25-znf384"><rect class="b" x="1124" y="908" width="130" height="39"/><text class="t" x="1189" y="934">znf384 (2/2)</text><use href="#dn" x="1264" y="913"/></g>
<g id="c-t25-gnl1"><rect class="b" x="1154" y="952" width="70" height="39"/><text class="t" x="1189" y="978">gnl1</text><use href="#dn" x="1235" y="958"/></g>
<g id="c-t25-ddr1"><rect class="b" x="1153" y="996" width="72" height="39"/><text class="t" x="1189" y="1022">ddr1</text><use href="#dn" x="1236" y="1002"/></g>
<g id="c-t25-flot1b"><rect class="b" x="1149" y="1040" width="80" height="39"/><text class="t" x="1189" y="1066">flot1b</text><use href="#dn" x="1241" y="1047"/></g>
<g id="c-t25-tubb5"><rect class="b" x="1149" y="1084" width="80" height="39"/><text class="t" x="1189" y="1110">tubb5</text><use href="#dn" x="1241" y="1089"/></g>
<g id="c-t25-ino80e"><rect class="b" x="1144" y="1128" width="90" height="39"/><text class="t" x="1189" y="1154">ino80e</text><use href="#dn" x="1243" y="1133"/></g>
<g id="c-t25-vars"><rect class="b" x="1154" y="1172" width="70" height="38"/><text class="t" x="1189" y="1198">vars</text><use href="#dn" x="1236" y="1177"/></g>
<g id="c-t25-abhd16a"><rect class="b" x="1137" y="1216" width="105" height="38"/><text class="t" x="1189.5" y="1242">abhd16a</text><use href="#up" x="1253" y="1220"/></g>
<g id="c-t25-atp1a3b"><rect class="o" x="1139" y="1260" width="100" height="38"/><text class="t" x="1189" y="1286">atp1a3b</text><use href="#dn" x="1251" y="1265"/></g>
<g id="c-t25-rabac1"><rect class="b" x="1144" y="1304" width="90" height="38"/><text class="t" x="1189" y="1330">rabac1</text><use href="#up" x="1247" y="1310"/></g>
<g id="c-t25-dedd1"><rect class="b" x="1147" y="1347" width="85" height="39"/><text class="t" x="1189.5" y="1373">dedd1</text><use href="#dn" x="1242" y="1353"/></g>
<g id="c-t25-pou2f2a"><rect class="b" x="1139" y="1392" width="100" height="38"/><text class="t" x="1189" y="1418">pou2f2a</text><use href="#dn" x="1251" y="1397"/></g>
<g id="c-t25-cicb"><rect class="b" x="1156" y="1436" width="67" height="38"/><text class="t" x="1189.5" y="1462">cicb</text><use href="#dn" x="1234" y="1441"/></g>
<g id="c-t25-znf526"><rect class="b" x="1144" y="1479" width="90" height="39"/><text class="t" x="1189" y="1505">znf526</text><use href="#up" x="1244" y="1485"/></g>
<g id="c-t25-znf574"><rect class="b" x="1144" y="1523" width="90" height="39"/><text class="t" x="1189" y="1549">znf574</text><use href="#dn" x="1243" y="1529"/></g>
<g id="c-t25-grik5"><rect class="b" x="1152" y="1567" width="75" height="39"/><text class="t" x="1189.5" y="1593">grik5</text><use href="#dn" x="1239" y="1573"/></g>
</svg>
